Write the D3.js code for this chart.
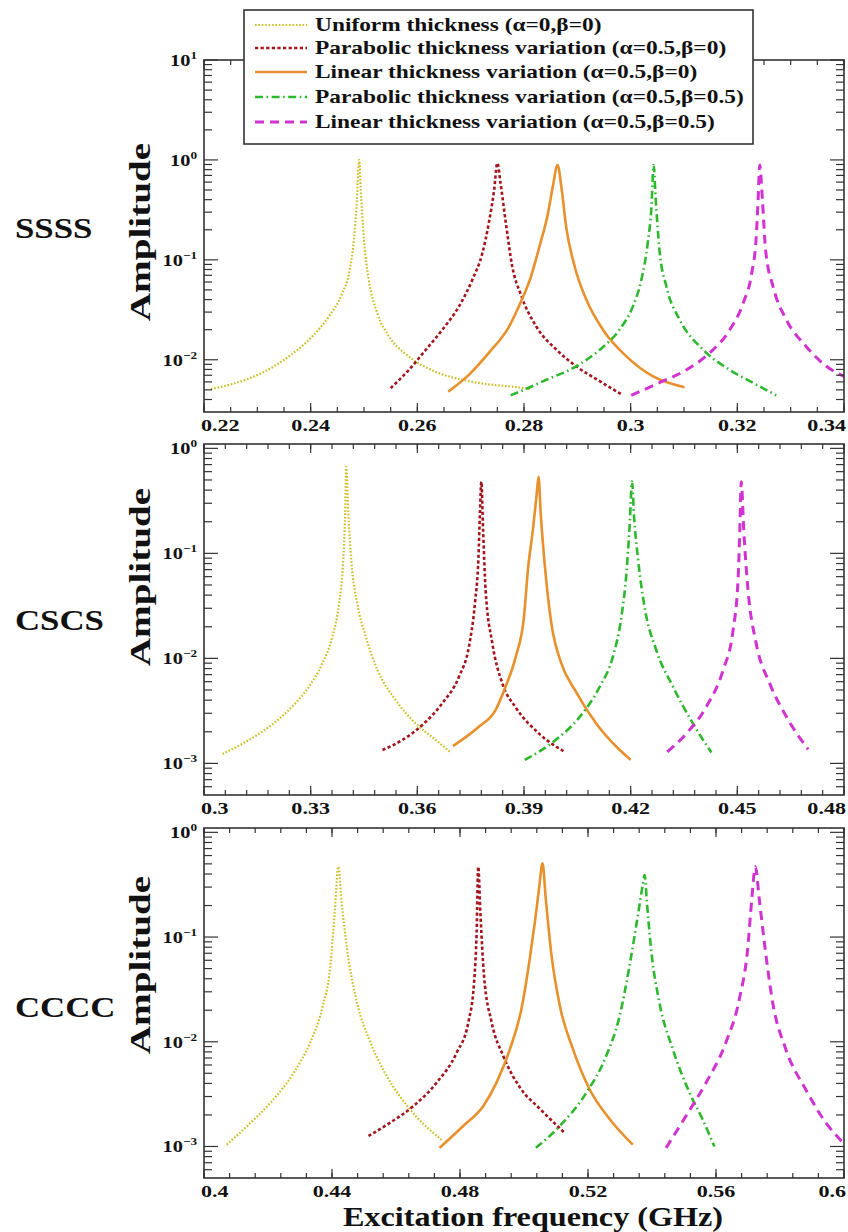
<!DOCTYPE html>
<html>
<head>
  <meta charset="utf-8">
  <title>Amplitude vs excitation frequency</title>
  <script src="https://d3js.org/d3.v7.min.js"></script>
  <style>
    body { margin: 0; background: #fff; }
    text { font-family: "Liberation Serif", "Times New Roman", serif; font-weight: bold; fill: #111; }
  </style>
</head>
<body>
<div id="vis"></div>
<script>
// series names (legend)
var seriesNames = [
  "Uniform thickness (\u03b1=0,\u03b2=0)",
  "Parabolic thickness variation (\u03b1=0.5,\u03b2=0)",
  "Linear thickness variation (\u03b1=0.5,\u03b2=0)",
  "Parabolic thickness variation (\u03b1=0.5,\u03b2=0.5)",
  "Linear thickness variation (\u03b1=0.5,\u03b2=0.5)"
];
var panelNames = ["SSSS", "CSCS", "CCCC"];

// [frequency GHz, amplitude]
// SSSS
var ssssUniform = [[0.2213,0.0051],[0.2247,0.0056],[0.2309,0.0074],[0.2359,0.0108],[0.2403,0.0171],[0.2434,0.0271],[0.2459,0.046],[0.2472,0.0736],[0.2481,0.158],[0.2486,0.341],[0.2491,1.0],[0.2494,0.5],[0.25,0.158],[0.2509,0.063],[0.2525,0.0293],[0.2547,0.0171],[0.2584,0.0108],[0.2634,0.0076],[0.2697,0.0061],[0.28,0.0052],[0.2811,0.0051]];
var ssssParab = [[0.255,0.0052],[0.2584,0.0079],[0.2616,0.0126],[0.2647,0.02],[0.2678,0.0341],[0.2703,0.063],[0.2722,0.117],[0.2734,0.233],[0.2744,0.5],[0.275,0.93],[0.2756,0.585],[0.2766,0.233],[0.2778,0.0858],[0.2794,0.045],[0.2823,0.0215],[0.2861,0.0126],[0.2898,0.0086],[0.2942,0.0061],[0.2983,0.0045]];
var ssssLin = [[0.2658,0.0048],[0.2697,0.0071],[0.2734,0.0117],[0.2772,0.0215],[0.2796,0.04],[0.2811,0.063],[0.2829,0.136],[0.2845,0.293],[0.2854,0.541],[0.2863,0.89],[0.287,0.541],[0.2879,0.215],[0.2895,0.0858],[0.2917,0.0398],[0.2948,0.02],[0.2992,0.0108],[0.3042,0.0068],[0.3101,0.0053]];
var ssssParabB = [[0.2775,0.0044],[0.2792,0.0048],[0.2842,0.0063],[0.2898,0.0086],[0.2942,0.0126],[0.2979,0.02],[0.3004,0.034],[0.302,0.063],[0.3032,0.147],[0.3039,0.341],[0.3043,0.89],[0.3047,0.398],[0.3054,0.126],[0.3067,0.054],[0.3092,0.0251],[0.3136,0.0126],[0.3186,0.0079],[0.3229,0.0059],[0.3273,0.0044]];
var ssssLinB = [[0.3001,0.0044],[0.3054,0.0059],[0.3104,0.0079],[0.3148,0.0117],[0.3186,0.02],[0.3211,0.0369],[0.3227,0.0736],[0.3235,0.158],[0.3239,0.398],[0.3242,0.89],[0.3247,0.398],[0.3253,0.126],[0.3267,0.054],[0.3292,0.0251],[0.3329,0.0136],[0.3367,0.0086],[0.34,0.0068]];
// CSCS
var cscsUniform = [[0.3052,0.00123],[0.3117,0.0016],[0.3183,0.00223],[0.3248,0.00347],[0.3295,0.00537],[0.3333,0.00896],[0.3361,0.0161],[0.338,0.0334],[0.3391,0.0803],[0.3397,0.24],[0.34,0.668],[0.3406,0.24],[0.3415,0.0803],[0.3431,0.0334],[0.3455,0.0161],[0.3488,0.00774],[0.3539,0.00401],[0.3595,0.0024],[0.3652,0.00167],[0.3694,0.00127]];
var cscsParab = [[0.3502,0.00134],[0.3558,0.00167],[0.3614,0.00232],[0.367,0.00373],[0.3717,0.00668],[0.3745,0.0129],[0.3762,0.0334],[0.3772,0.093],[0.3776,0.24],[0.378,0.482],[0.3785,0.167],[0.3792,0.0448],[0.3811,0.0139],[0.3839,0.00578],[0.3877,0.0034],[0.3944,0.0019],[0.4014,0.00129]];
var cscsLin = [[0.37,0.00146],[0.3773,0.00223],[0.382,0.00322],[0.3848,0.00537],[0.3877,0.0104],[0.39,0.025],[0.3911,0.0694],[0.3925,0.167],[0.3935,0.347],[0.3941,0.537],[0.3947,0.24],[0.3958,0.0803],[0.3977,0.0215],[0.4005,0.00896],[0.4043,0.005],[0.4103,0.0024],[0.416,0.00144],[0.42,0.00108]];
var cscsParabB = [[0.3902,0.00108],[0.3982,0.0016],[0.4057,0.00278],[0.4113,0.00537],[0.415,0.0104],[0.4174,0.025],[0.4188,0.0645],[0.4197,0.18],[0.4204,0.482],[0.4209,0.24],[0.4221,0.0865],[0.4239,0.031],[0.4272,0.012],[0.4319,0.00537],[0.4375,0.0024],[0.4427,0.00127]];
var cscsLinB = [[0.4303,0.00129],[0.4357,0.00193],[0.4413,0.00347],[0.446,0.00774],[0.4488,0.0186],[0.4502,0.0557],[0.4507,0.167],[0.4511,0.482],[0.4518,0.167],[0.453,0.0448],[0.4553,0.0139],[0.4591,0.00578],[0.4638,0.00278],[0.4699,0.00136]];
// CCCC
var ccccUniform = [[0.4071,0.00104],[0.4135,0.00157],[0.4208,0.00262],[0.4281,0.00509],[0.4332,0.00986],[0.4369,0.0206],[0.4395,0.0535],[0.4408,0.162],[0.442,0.469],[0.4429,0.233],[0.4447,0.0773],[0.4478,0.0238],[0.452,0.00986],[0.4571,0.00472],[0.4644,0.00226],[0.4743,0.00115]];
var ccccParab = [[0.4514,0.00126],[0.4582,0.00169],[0.4655,0.00244],[0.4727,0.00407],[0.479,0.0079],[0.4826,0.0153],[0.4844,0.037],[0.4852,0.112],[0.4857,0.469],[0.4864,0.162],[0.4875,0.043],[0.4899,0.0153],[0.4935,0.00734],[0.4989,0.0036],[0.5049,0.0023],[0.5127,0.00135]];
var ccccLin = [[0.4736,0.00097],[0.481,0.00157],[0.4873,0.00244],[0.4914,0.00407],[0.4956,0.0085],[0.4992,0.0206],[0.5018,0.062],[0.5034,0.139],[0.5047,0.29],[0.5058,0.505],[0.5068,0.233],[0.5086,0.0667],[0.5112,0.0221],[0.5153,0.0085],[0.5205,0.00352],[0.5268,0.00182],[0.534,0.00104]];
var ccccParabB = [[0.5037,0.00097],[0.5112,0.00157],[0.5195,0.00327],[0.5257,0.00734],[0.5299,0.0177],[0.533,0.0535],[0.5356,0.162],[0.5371,0.313],[0.5377,0.39],[0.5384,0.216],[0.5397,0.0773],[0.5423,0.0238],[0.5465,0.0085],[0.5517,0.00327],[0.5558,0.00182],[0.5595,0.001]];
var ccccLinB = [[0.5444,0.00097],[0.5506,0.00195],[0.5569,0.00407],[0.5631,0.00986],[0.5673,0.0256],[0.5699,0.0773],[0.5712,0.233],[0.5723,0.469],[0.5735,0.233],[0.5751,0.0895],[0.5777,0.0238],[0.5818,0.0085],[0.588,0.00352],[0.5943,0.00169],[0.5993,0.00112]];

// axis ranges / ticks
var xDomains = [[0.22, 0.34], [0.3, 0.48], [0.4, 0.6]];
var xMajorSteps = [0.02, 0.03, 0.04];
var xMinorSteps = [0.005, 0.006, 0.008];
var yDomains = [[0.003, 10], [0.0005, 1.1], [0.0005, 1.1]];
var yDecades = [[1, 0, -1, -2], [0, -1, -2, -3], [0, -1, -2, -3]];

var colors = ["#cfbd25", "#a3141c", "#e8902c", "#2eb82e", "#d033d0"];
var dashes = ["1.6,1.8", "3.2,2.4", null, "8,3.5,1.6,3.5", "9,6"];
var widths = [2.2, 2.6, 2.6, 2.6, 3];

var panels = [
  [ssssUniform, ssssParab, ssssLin, ssssParabB, ssssLinB],
  [cscsUniform, cscsParab, cscsLin, cscsParabB, cscsLinB],
  [ccccUniform, ccccParab, ccccLin, ccccParabB, ccccLinB]
];

var W = 848, H = 1232;
var X0 = 204, X1 = 844;
var boxes = [{top: 60, bottom: 412, label: 238, amp: 232},
             {top: 444, bottom: 795, label: 630, amp: 577},
             {top: 828, bottom: 1178, label: 1017, amp: 965}];

var svg = d3.select("#vis").append("svg")
  .attr("width", W).attr("height", H);

function fmtX(v) { return String(+v.toFixed(3)); }

// text in the figure is drawn wider than the font's normal proportions
function wideText(parent, x, y, sx, size, anchor) {
  return parent.append("text")
    .attr("transform", "translate(" + x + "," + y + ") scale(" + sx + ",1)")
    .attr("text-anchor", anchor || "start")
    .style("font-size", size + "px");
}

panels.forEach(function(series, p) {
  var b = boxes[p];
  var x = d3.scaleLinear().domain(xDomains[p]).range([X0, X1]);
  var y = d3.scaleLog().domain(yDomains[p]).range([b.bottom, b.top]);
  var g = svg.append("g");

  g.append("clipPath").attr("id", "clip" + p)
    .append("rect").attr("x", X0).attr("y", b.top).attr("width", X1 - X0).attr("height", b.bottom - b.top);

  var line = d3.line()
    .x(function(d) { return x(d[0]); })
    .y(function(d) { return y(d[1]); })
    .curve(d3.curveMonotoneX);

  g.append("g").attr("clip-path", "url(#clip" + p + ")")
    .selectAll("path").data(series).enter().append("path")
    .attr("d", line)
    .attr("fill", "none")
    .attr("stroke", function(d, i) { return colors[i]; })
    .attr("stroke-width", function(d, i) { return widths[i]; })
    .attr("stroke-dasharray", function(d, i) { return dashes[i]; });

  // ticks
  var d0 = xDomains[p][0], d1 = xDomains[p][1];
  var nMaj = Math.round((d1 - d0) / xMajorSteps[p]);
  var nMin = Math.round((d1 - d0) / xMinorSteps[p]);
  var xMaj = d3.range(nMaj + 1).map(function(i) { return d0 + i * xMajorSteps[p]; });
  var xMin = d3.range(nMin + 1).map(function(i) { return d0 + i * xMinorSteps[p]; });

  var yMin = [];
  var lo = Math.floor(Math.log10(yDomains[p][0])), hi = Math.ceil(Math.log10(yDomains[p][1]));
  for (var k = lo; k <= hi; k++) {
    for (var m = 2; m <= 9; m++) {
      var v = m * Math.pow(10, k);
      if (v > yDomains[p][0] && v < yDomains[p][1]) yMin.push(v);
    }
  }
  var yMaj = yDecades[p].map(function(e) { return Math.pow(10, e); });

  var tk = g.append("g").attr("stroke", "#333").attr("stroke-width", 1.2);
  [[xMin, 5], [xMaj, 9]].forEach(function(s) {
    tk.selectAll(null).data(s[0]).enter().append("line")
      .attr("x1", function(d) { return x(d); }).attr("x2", function(d) { return x(d); })
      .attr("y1", b.bottom).attr("y2", b.bottom - s[1]);
    tk.selectAll(null).data(s[0]).enter().append("line")
      .attr("x1", function(d) { return x(d); }).attr("x2", function(d) { return x(d); })
      .attr("y1", b.top).attr("y2", b.top + s[1]);
  });
  [[yMin, 8], [yMaj, 14]].forEach(function(s) {
    tk.selectAll(null).data(s[0]).enter().append("line")
      .attr("x1", X0).attr("x2", X0 + s[1])
      .attr("y1", function(d) { return y(d); }).attr("y2", function(d) { return y(d); });
    tk.selectAll(null).data(s[0]).enter().append("line")
      .attr("x1", X1).attr("x2", X1 - s[1])
      .attr("y1", function(d) { return y(d); }).attr("y2", function(d) { return y(d); });
  });

  g.append("rect").attr("x", X0).attr("y", b.top)
    .attr("width", X1 - X0).attr("height", b.bottom - b.top)
    .attr("fill", "none").attr("stroke", "#333").attr("stroke-width", 1.6);

  // x tick labels
  xMaj.forEach(function(d, i) {
    var last = i === xMaj.length - 1;
    var tx = i === 0 ? X0 - 3 : (last ? X1 + 2 : x(d));
    var anchor = i === 0 ? "start" : (last ? "end" : "middle");
    wideText(g, tx, b.bottom + 19, 1.3, 17, anchor).text(fmtX(d));
  });

  // y tick labels 10^k
  yDecades[p].forEach(function(e) {
    var t = wideText(g, 197, y(Math.pow(10, e)) + 6, 1.2, 17, "end");
    t.append("tspan").text("10");
    t.append("tspan").attr("dy", -7).style("font-size", "11px")
      .text(e < 0 ? "\u2212" + (-e) : String(e));
  });

  // Amplitude
  g.append("text")
    .attr("transform", "translate(150," + b.amp + ") rotate(-90) scale(1.35,1)")
    .attr("text-anchor", "middle")
    .style("font-size", "29px")
    .text("Amplitude");

  // panel name
  wideText(g, 15, b.label, 1.2, 29).text(panelNames[p]);
});

// x axis title
wideText(svg, 533, 1226, 1.15, 28, "middle").text("Excitation frequency (GHz)");

// legend
var lg = svg.append("g");
lg.append("rect").attr("x", 244).attr("y", 10).attr("width", 509).attr("height", 134)
  .attr("fill", "#fff").attr("stroke", "#333").attr("stroke-width", 1.6);
var rowY = [25, 48, 72, 97, 122];
seriesNames.forEach(function(name, i) {
  lg.append("line").attr("x1", 255).attr("x2", 307).attr("y1", rowY[i]).attr("y2", rowY[i])
    .attr("stroke", colors[i]).attr("stroke-width", widths[i])
    .attr("stroke-dasharray", dashes[i]);
  wideText(lg, 315, rowY[i] + 6, 1.3, 18).text(name);
});
</script>
</body>
</html>
